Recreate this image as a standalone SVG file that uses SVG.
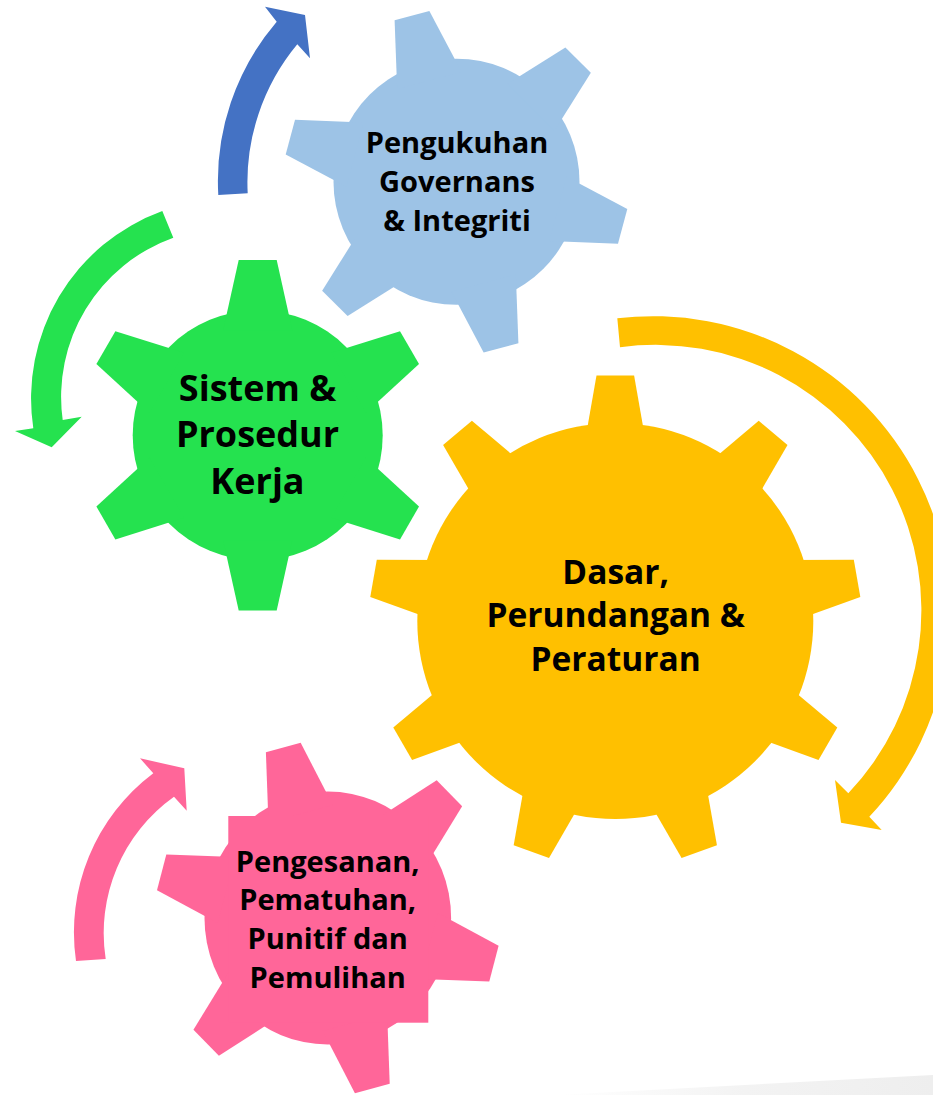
<svg xmlns="http://www.w3.org/2000/svg" xmlns:xlink="http://www.w3.org/1999/xlink" width="933" height="1095" viewBox="0 0 933 1095">
<style>
.lbl{font-family:"Open Sans","Noto Sans","Liberation Sans",sans-serif;font-weight:700;fill:#000;text-anchor:middle}
.blue{fill:#9DC3E6}
.green{fill:#25E24F}
.yellow{fill:#FFC000}
.pink{fill:#FF6699}
.arrBlue{fill:#4472C4}
</style>
<defs>
<polygon id="toothB" points="-33.3,-105 -18,-172 18,-172 33.3,-105"/>
<polygon id="toothG" points="-34.6,-105 -19,-175.3 19,-175.3 34.6,-105"/>
<polygon id="toothY" points="-30.3,-180 -18.8,-245.5 18.8,-245.5 30.3,-180"/>
<linearGradient id="shadow" x1="556" y1="0" x2="933" y2="0" gradientUnits="userSpaceOnUse">
<stop offset="0" stop-color="#ffffff"/>
<stop offset="0.5" stop-color="#f3f3f3"/>
<stop offset="1" stop-color="#eeeeee"/>
</linearGradient>
</defs>
<rect width="933" height="1095" fill="#ffffff"/>
<polygon points="556,1095 933,1075 933,1095" fill="url(#shadow)"/>

<g id="connectors">
<path class="arrBlue" d="M218.3,195 A245,245 0 0 1 276.7,21.7 L265,6.7 L305,15 L310,58.3 L297.3,44.3 A216,216 0 0 0 247.7,193.3 Z"/>
<path class="green" d="M162.3,211 A199.5,199.5 0 0 0 33.3,428.3 L15,431 L51.7,447.3 L81.7,416.7 L62.7,420 A169,169 0 0 1 173.3,237.7 Z"/>
<path class="yellow" d="M617.3,318.3 A297,297 0 0 1 869.3,816.7 L881.7,830 L841,822.7 L835,780 L848.3,793.3 A265.5,265.5 0 0 0 620,347.3 Z"/>
<path class="pink" d="M76,961 A199,199 0 0 1 153.3,773.3 L140,758.3 L184.3,768.3 L186.7,810.7 L174,796.7 A167.5,167.5 0 0 0 105.7,959 Z"/>
</g>

<g id="gear-governans">
<g class="blue" transform="translate(456.5,181.75)">
<circle r="123"/>
<use xlink:href="#toothB" transform="rotate(-15)"/>
<use xlink:href="#toothB" transform="rotate(45)"/>
<use xlink:href="#toothB" transform="rotate(105)"/>
<use xlink:href="#toothB" transform="rotate(165)"/>
<use xlink:href="#toothB" transform="rotate(225)"/>
<use xlink:href="#toothB" transform="rotate(285)"/>
</g>
<text class="lbl" font-size="29" x="457" y="152.7">Pengukuhan</text>
<text class="lbl" font-size="29" x="457" y="191.7">Governans</text>
<text class="lbl" font-size="29" x="457" y="231">&amp; Integriti</text>
</g>

<g id="gear-sistem">
<g class="green" transform="translate(257.7,435.3)">
<circle r="125"/>
<use xlink:href="#toothG"/>
<use xlink:href="#toothG" transform="rotate(60)"/>
<use xlink:href="#toothG" transform="rotate(120)"/>
<use xlink:href="#toothG" transform="rotate(180)"/>
<use xlink:href="#toothG" transform="rotate(240)"/>
<use xlink:href="#toothG" transform="rotate(300)"/>
</g>
<text class="lbl" font-size="36" x="257.5" y="401">Sistem &amp;</text>
<text class="lbl" font-size="36" x="257.5" y="447.3">Prosedur</text>
<text class="lbl" font-size="36" x="257.5" y="494.3">Kerja</text>
</g>

<g id="gear-dasar">
<g class="yellow" transform="translate(615.3,621)">
<circle r="198"/>
<use xlink:href="#toothY"/>
<use xlink:href="#toothY" transform="rotate(40)"/>
<use xlink:href="#toothY" transform="rotate(80)"/>
<use xlink:href="#toothY" transform="rotate(120)"/>
<use xlink:href="#toothY" transform="rotate(160)"/>
<use xlink:href="#toothY" transform="rotate(200)"/>
<use xlink:href="#toothY" transform="rotate(240)"/>
<use xlink:href="#toothY" transform="rotate(280)"/>
<use xlink:href="#toothY" transform="rotate(320)"/>
</g>
<text class="lbl" font-size="33.5" x="615.7" y="583.5">Dasar,</text>
<text class="lbl" font-size="33.5" x="615.7" y="627.3">Perundangan &amp;</text>
<text class="lbl" font-size="33.5" x="615.7" y="671">Peraturan</text>
</g>

<g id="gear-pengesanan">
<g class="pink" transform="translate(327.8,918) scale(1,1.026)">
<circle r="123.3"/>
<use xlink:href="#toothB" transform="rotate(-15)"/>
<use xlink:href="#toothB" transform="rotate(45)"/>
<use xlink:href="#toothB" transform="rotate(105)"/>
<use xlink:href="#toothB" transform="rotate(165)"/>
<use xlink:href="#toothB" transform="rotate(225)"/>
<use xlink:href="#toothB" transform="rotate(285)"/>
</g>
<rect class="pink" x="228.3" y="816" width="200" height="206.7"/>
<text class="lbl" font-size="29" x="327.7" y="871.7">Pengesanan,</text>
<text class="lbl" font-size="29" x="327.7" y="910">Pematuhan,</text>
<text class="lbl" font-size="29" x="327.7" y="949.3">Punitif dan</text>
<text class="lbl" font-size="29" x="327.7" y="987.7">Pemulihan</text>
</g>
</svg>
